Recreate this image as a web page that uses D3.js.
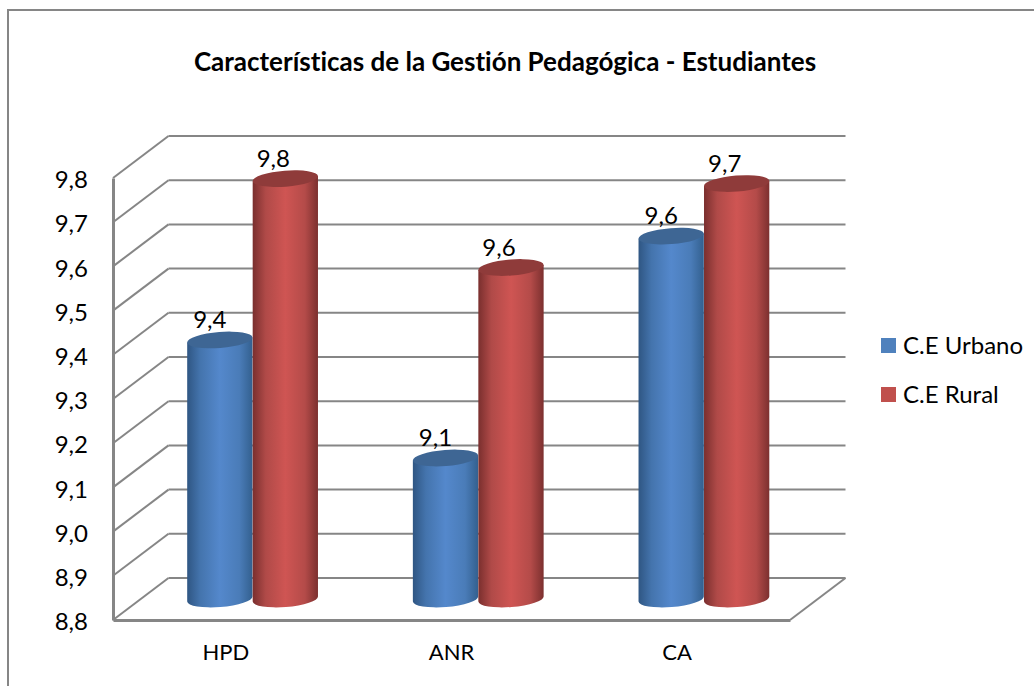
<!DOCTYPE html>
<html>
<head>
<meta charset="utf-8">
<script src="https://d3js.org/d3.v7.min.js"></script>
<style>
  body { margin: 0; background: #fff; }
  text { font-family: Lato, "Open Sans", sans-serif; fill: #000; font-variant-ligatures: none; }
</style>
</head>
<body>
<div id="chart"></div>
<script>
const categories = ["HPD", "ANR", "CA"];
const seriesNames = ["C.E Urbano", "C.E Rural"];
const urbano = [9.386, 9.119, 9.621];
const rural = [9.751, 9.55, 9.74];
const yTicks = [8.8, 8.9, 9.0, 9.1, 9.2, 9.3, 9.4, 9.5, 9.6, 9.7, 9.8];

const width = 1034;
const height = 686;
const plot = { left: 113, right: 790, top: 178, bottom: 620 };
const depth = { x: 55.5, y: -42 };   // desplazamiento de la pared del fondo
const gridColor = "#868686";
const colors = { "C.E Urbano": "#4f81bd", "C.E Rural": "#c0504d" };

const comma = v => d3.format(".1f")(v).replace(".", ",");

const x0 = d3.scaleBand().domain(categories).range([plot.left, plot.right]).padding(0);
const x1 = d3.scaleBand().domain(seriesNames).range([0, x0.bandwidth()]).paddingInner(0).paddingOuter(0.723);
const y = d3.scaleLinear().domain([8.8, 9.8]).range([plot.bottom, plot.top]);

const svg = d3.select("#chart").append("svg")
  .attr("width", width)
  .attr("height", height)
  .style("display", "block");

// marco exterior
svg.append("rect")
  .attr("x", 8).attr("y", 10)
  .attr("width", 1040).attr("height", 700)
  .attr("fill", "#fff")
  .attr("stroke", gridColor)
  .attr("stroke-width", 2);

svg.append("text")
  .attr("x", 505).attr("y", 71)
  .attr("text-anchor", "middle")
  .attr("font-size", 26)
  .attr("font-weight", 700)
  .text("Características de la Gestión Pedagógica - Estudiantes");

// gradientes de los cilindros
const defs = svg.append("defs");
const gradStops = {
  "C.E Urbano": ["#2f5683", "#4474ad", "#5488cc", "#4a7cb8", "#33608f"],
  "C.E Rural": ["#7a2f2e", "#b04a48", "#cf5553", "#b44b49", "#7c302f"]
};
seriesNames.forEach((s, i) => {
  const g = defs.append("linearGradient").attr("id", "grad" + i);
  gradStops[s].forEach((c, j) => {
    g.append("stop").attr("offset", [0, 0.2, 0.5, 0.8, 1][j]).attr("stop-color", c);
  });
});

// paredes: lineas del fondo y diagonales
const walls = svg.append("g").attr("stroke", gridColor).attr("stroke-width", 2).attr("fill", "none");
walls.selectAll(".back")
  .data(yTicks)
  .enter().append("line")
  .attr("x1", plot.left + depth.x)
  .attr("x2", plot.right + depth.x)
  .attr("y1", d => y(d) + depth.y)
  .attr("y2", d => y(d) + depth.y);
walls.selectAll(".diag")
  .data(yTicks)
  .enter().append("line")
  .attr("x1", plot.left)
  .attr("x2", plot.left + depth.x)
  .attr("y1", d => y(d))
  .attr("y2", d => y(d) + depth.y);
walls.append("line")
  .attr("x1", plot.right).attr("y1", plot.bottom)
  .attr("x2", plot.right + depth.x).attr("y2", plot.bottom + depth.y);

// ejes
const yAxis = svg.append("g")
  .attr("transform", `translate(${plot.left},0)`)
  .call(d3.axisLeft(y).tickValues(yTicks).tickFormat(comma).tickSize(0).tickPadding(25));
const xAxis = svg.append("g")
  .attr("transform", `translate(0,${plot.bottom})`)
  .call(d3.axisBottom(x0).tickSize(0).tickPadding(24));
svg.selectAll(".domain").attr("stroke", gridColor).attr("stroke-width", 3);
yAxis.selectAll(".tick text")
  .attr("font-size", 24)
  .attr("dy", "0.4em")
  .style("font-family", "Lato, 'Open Sans', sans-serif");
xAxis.selectAll(".tick text")
  .attr("font-size", 22)
  .style("font-family", "Lato, 'Open Sans', sans-serif");

// cilindros
const rx = x1.bandwidth() / 2;
const ry = 8;
const tilt = -4.5;
const midX = depth.x / 2 - 1;
const midY = depth.y / 2;
const dxT = rx * Math.cos(tilt * Math.PI / 180);
const dyT = rx * Math.sin(tilt * Math.PI / 180);

const bars = [];
categories.forEach((c, i) => {
  bars.push({ cat: c, s: seriesNames[0], si: 0, v: urbano[i] });
  bars.push({ cat: c, s: seriesNames[1], si: 1, v: rural[i] });
});

const cyl = svg.selectAll(".cyl")
  .data(bars)
  .enter().append("g")
  .attr("class", "cyl")
  .attr("transform", d => `translate(${x0(d.cat) + x1(d.s) + rx + midX},0)`);

cyl.append("path")
  .attr("fill", d => `url(#grad${d.si})`)
  .attr("d", d => {
    const top = y(d.v) + midY;
    const base = y(8.8) + midY;
    return `M${-dxT},${top - dyT}L${-dxT},${base - dyT}` +
      `A${rx},${ry} ${tilt} 0 0 ${dxT},${base + dyT}` +
      `L${dxT},${top + dyT}Z`;
  });

cyl.append("ellipse")
  .attr("rx", rx)
  .attr("ry", ry)
  .attr("fill", d => d.si === 0 ? "#3e6694" : "#8f3b3a")
  .attr("transform", d => `translate(0,${y(d.v) + midY}) rotate(${tilt})`);

cyl.append("text")
  .attr("x", d => d.si === 0 ? -10 : -12)
  .attr("y", d => y(d.v) + midY - 12)
  .attr("text-anchor", "middle")
  .attr("font-size", 24)
  .text(d => comma(d.v));

// leyenda
const legend = svg.selectAll(".legend")
  .data(seriesNames)
  .enter().append("g")
  .attr("class", "legend")
  .attr("transform", (d, i) => `translate(881,${338 + i * 49})`);
legend.append("rect")
  .attr("width", 15).attr("height", 15)
  .attr("fill", d => colors[d]);
legend.append("text")
  .attr("x", 22).attr("y", 16)
  .attr("font-size", 24)
  .text(d => d);
</script>
</body>
</html>
